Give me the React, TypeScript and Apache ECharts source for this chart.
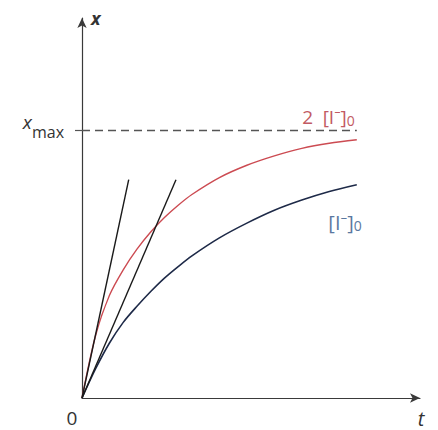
import { useEffect, useRef } from 'react';
import * as echarts from 'echarts';

// Product formed vs. time for two initial iodide concentrations
const timeSteps = [0, 0.5, 1, 1.5, 2, 2.5, 3, 3.5, 4, 5, 6, 7, 8, 9, 10];
const fastX = [0, 0.235, 0.383, 0.478, 0.555, 0.619, 0.673, 0.719, 0.759, 0.822, 0.868, 0.903, 0.931, 0.95, 0.963];
const slowX = [0, 0.11, 0.205, 0.282, 0.342, 0.397, 0.447, 0.49, 0.53, 0.597, 0.652, 0.7, 0.738, 0.77, 0.795];

// Initial-rate tangents drawn from the origin
const tangentFastT = [0, 1.7];
const tangentSlowT = [0, 3.42];
const tangentX = [0, 0.814];

const xMax = 1;
const tEnd = 10;
const tAxisMax = 12.3;
const xAxisMax = 1.417;

const pairs = (ts: number[], xs: number[]) => ts.map((t, i) => [t, xs[i]]);

const FONT = '"Open Sans", "Noto Sans", "DejaVu Sans", sans-serif';
const RED_TEXT = '#c25a63';
const BLUE_TEXT = '#5a78a0';

export default function App() {
  const ref = useRef<HTMLDivElement>(null);

  useEffect(() => {
    const chart = echarts.init(ref.current!, null, { renderer: 'svg' });
    const axisColor = '#3a3a3a';
    chart.setOption({
      animation: false,
      backgroundColor: '#ffffff',
      grid: { left: 82, right: 18, top: 18, bottom: 32 },
      xAxis: {
        type: 'value',
        min: 0,
        max: tAxisMax,
        splitLine: { show: false },
        axisLine: {
          show: true,
          onZero: false,
          symbol: ['none', 'arrow'],
          symbolSize: [7, 10],
          lineStyle: { color: axisColor, width: 1.2 },
        },
        axisTick: { show: false },
        axisLabel: {
          customValues: [0],
          margin: 10,
          align: 'center',
          padding: [0, 20, 0, 0],
          color: '#333',
          fontSize: 19,
          fontFamily: FONT,
        },
        name: 't',
        nameLocation: 'end',
        nameGap: 0,
        nameTextStyle: {
          fontStyle: 'italic',
          fontSize: 20,
          color: '#333',
          align: 'center',
          verticalAlign: 'top',
          padding: [10, 0, 0, 2],
          fontFamily: FONT,
        },
      },
      yAxis: {
        type: 'value',
        min: 0,
        max: xAxisMax,
        splitLine: { show: false },
        axisLine: {
          show: true,
          onZero: false,
          symbol: ['none', 'arrow'],
          symbolSize: [7, 10],
          lineStyle: { color: axisColor, width: 1.2 },
        },
        axisTick: {
          show: true,
          customValues: [xMax],
          length: 7,
          lineStyle: { color: '#555', width: 1.2 },
        },
        axisLabel: {
          customValues: [xMax],
          margin: 18,
          formatter: () => '{v|x}{m|max}',
          rich: {
            v: { fontStyle: 'italic', fontSize: 19, color: '#333', fontFamily: FONT, lineHeight: 20, verticalAlign: 'bottom', padding: [0, 0, 8, 0] },
            m: { fontSize: 16, color: '#333', fontFamily: FONT, lineHeight: 18, verticalAlign: 'bottom' },
          },
        },
        name: 'x',
        nameLocation: 'end',
        nameGap: 0,
        nameTextStyle: {
          fontStyle: 'italic',
          fontWeight: 'bold',
          fontSize: 18,
          color: '#333',
          align: 'left',
          verticalAlign: 'middle',
          padding: [0, 0, 0, 9],
          fontFamily: FONT,
        },
      },
      series: [
        {
          type: 'line',
          name: '2 [I⁻]0',
          data: pairs(timeSteps, fastX),
          smooth: 0.3,
          showSymbol: false,
          lineStyle: { color: '#cc4b52', width: 1.4 },
          z: 2,
          markLine: {
            silent: true,
            symbol: ['none', 'none'],
            lineStyle: { color: '#555', width: 1.3, type: [8, 5] },
            label: {
              show: true,
              position: 'insideEndTop',
              distance: 2,
              formatter: () => '{a|2\u2002[I⁻]}{s|0}',
              rich: {
                a: { fontSize: 19, color: RED_TEXT, fontFamily: FONT, lineHeight: 20, verticalAlign: 'top' },
                s: { fontSize: 14, color: RED_TEXT, fontFamily: FONT, lineHeight: 13, verticalAlign: 'bottom', padding: [8, 0, 0, 0] },
              },
            },
            data: [[{ coord: [0, xMax] }, { coord: [tEnd, xMax] }]],
          },
        },
        {
          type: 'line',
          name: '[I⁻]0',
          data: pairs(timeSteps, slowX),
          smooth: 0.3,
          showSymbol: false,
          lineStyle: { color: '#1e2a48', width: 1.6 },
          z: 2,
          endLabel: {
            show: true,
            formatter: () => '{a|[I⁻]}{s|0}',
            align: 'right',
            verticalAlign: 'top',
            offset: [-3, 28],
            rich: {
              a: { fontSize: 20, color: BLUE_TEXT, fontFamily: FONT, lineHeight: 20, verticalAlign: 'top' },
              s: { fontSize: 14, color: BLUE_TEXT, fontFamily: FONT, lineHeight: 13, verticalAlign: 'bottom', padding: [8, 0, 0, 0] },
            },
          },
        },
        {
          type: 'line',
          data: pairs(tangentFastT, tangentX),
          showSymbol: false,
          lineStyle: { color: '#1a1a1a', width: 1.4 },
          z: 3,
        },
        {
          type: 'line',
          data: pairs(tangentSlowT, tangentX),
          showSymbol: false,
          lineStyle: { color: '#1a1a1a', width: 1.4 },
          z: 3,
        },
      ],
    });
    return () => chart.dispose();
  }, []);

  return (
    <div
      ref={ref}
      style={{ position: 'fixed', left: 0, top: 0, width: 438, height: 430 }}
    />
  );
}
